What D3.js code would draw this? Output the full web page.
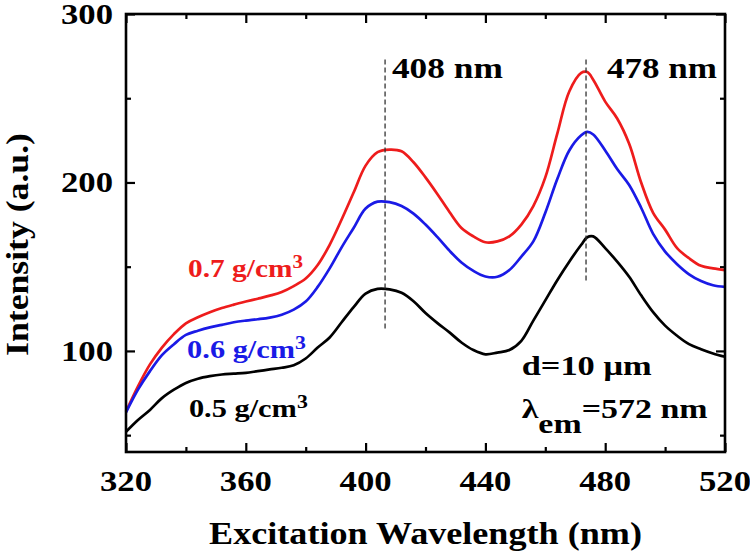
<!DOCTYPE html>
<html>
<head>
<meta charset="utf-8">
<script src="https://cdn.jsdelivr.net/npm/d3@7"></script>
<style>
  html, body { margin: 0; padding: 0; background: #fff; }
  svg { display: block; }
</style>
</head>
<body>
<svg id="chart" width="750" height="555"></svg>
<script>
// ---- data ----
const wavelength = [320,324,328,332,336,340,344,348,352,356,360,364,368,372,376,380,384,388,392,396,400,404,408,412,416,420,424,428,432,436,440,444,448,452,456,460,464,468,472,474,476,480,484,488,492,496,500,504,508,512,516,520];
const density07 = [64,79,92,102,110,116.4,120,123,125.5,127.5,129.3,131,132.8,135,138.5,143,151,163,178,194,210,218,219.5,218.5,212,203,193,182.5,173,168,164.5,165,168,175,186,203,229,254,265,265.5,261,248,238,223,200,182,172,161,155,150.5,149,148];
const density06 = [63.5,77,88,97.5,104,109.5,112,114,115.5,117,118,118.8,119.8,121.5,124.5,129.3,138,149,161.5,173,184.5,188.6,188.3,186,181.5,175,167.5,159.5,152.5,147.5,144.2,144,148,156,165,182,202,219,228,230,228.5,219,208,198.5,185,169.5,159,151.5,145.5,141.5,139,138];
const density05 = [52,59,65,72,77,81,83.5,85,86,86.5,87,88,89,90,91.5,95.5,102,108,117,126,134,136.8,136.5,134.5,129.5,122.5,116.5,111,105,100.5,98,99,100.5,106,118,130,142,153,163,167.5,168,161,153,144,133,123,115,109,104,101,98.5,96.5];
const seriesNames = ["0.7 g/cm", "0.6 g/cm", "0.5 g/cm"];
const seriesColors = ["#ee1c1c", "#1a1ae6", "#000000"];
const xMajorTicks = [320,360,400,440,480,520];
const xMinorTicks = [340,380,420,460,500];
const yMajorTicks = [100,200,300];
const yMinorTicks = [50,150,250];
const peakPositions = [406.5, 473.6];
const peakLabels = ["408 nm", "478 nm"];

// ---- layout ----
const L = 126, R = 725, T = 14, B = 452;
const FONT = "'Liberation Serif', 'Times New Roman', Times, 'Nimbus Roman', serif";
const svg = d3.select("#chart");
const x = d3.scaleLinear().domain([320, 520]).range([L, R]);
const y = d3.scaleLinear().domain([40, 300]).range([B, T]);

// text helper: stretch horizontally so width matches target
function label(parent, px, py, parts, size, anchor, targetW, fill, rotate) {
  const g = parent.append("g").attr("transform", `translate(${px},${py})` + (rotate ? " rotate(-90)" : ""));
  const t = g.append("text")
    .attr("font-family", FONT).attr("font-weight", "bold")
    .attr("font-size", size).attr("text-anchor", anchor).attr("fill", fill || "#000");
  parts.forEach(p => {
    const ts = t.append("tspan").text(p.t);
    if (p.dy) ts.attr("dy", p.dy);
    if (p.size) ts.attr("font-size", p.size);
  });
  if (targetW) {
    const w = t.node().getBBox().width;
    if (w > 0) t.attr("transform", `scale(${targetW / w},1)`);
  }
  return g;
}

// ---- axes (inward ticks on all four sides) ----
function ax(gen, tx, ty) {
  const g = svg.append("g").attr("transform", `translate(${tx},${ty})`).call(gen);
  g.select(".domain").remove();
  g.selectAll(".tick line").attr("stroke", "#000").attr("stroke-width", 2.2);
  g.selectAll(".tick text").remove();
}
ax(d3.axisBottom(x).tickValues(xMajorTicks).tickSize(-9), 0, B);
ax(d3.axisBottom(x).tickValues(xMinorTicks).tickSize(-5), 0, B);
ax(d3.axisTop(x).tickValues(xMajorTicks).tickSize(-9), 0, T);
ax(d3.axisTop(x).tickValues(xMinorTicks).tickSize(-5), 0, T);
ax(d3.axisLeft(y).tickValues(yMajorTicks).tickSize(-9), L, 0);
ax(d3.axisLeft(y).tickValues(yMinorTicks).tickSize(-5), L, 0);
ax(d3.axisRight(y).tickValues(yMajorTicks).tickSize(-9), R, 0);
ax(d3.axisRight(y).tickValues(yMinorTicks).tickSize(-5), R, 0);

// ---- curves ----
const line = d3.line().x(d => x(d[0])).y(d => y(d[1])).curve(d3.curveCatmullRom.alpha(0.5));
[density07, density06, density05].forEach((vals, i) => {
  svg.append("path")
    .datum(wavelength.map((w, k) => [w, vals[k]]))
    .attr("d", line)
    .attr("fill", "none")
    .attr("stroke", seriesColors[i])
    .attr("stroke-width", 2.7)
    .attr("stroke-linejoin", "round");
});

// ---- peak dashed lines ----
const peakBottoms = [112.5, 141];
peakPositions.forEach((p, i) => {
  svg.append("line")
    .attr("x1", x(p)).attr("x2", x(p))
    .attr("y1", y(273)).attr("y2", y(peakBottoms[i]))
    .attr("stroke", "#333").attr("stroke-width", 1.3)
    .attr("stroke-dasharray", "5,3");
});
label(svg, x(408.8), y(262), [{t: peakLabels[0]}], 30, "start", 111);
label(svg, x(480.6), y(262), [{t: peakLabels[1]}], 30, "start", 110);

// ---- frame ----
svg.append("rect").attr("x", L).attr("y", T).attr("width", R - L).attr("height", B - T)
  .attr("fill", "none").attr("stroke", "#000").attr("stroke-width", 2.6);

// ---- tick labels ----
xMajorTicks.forEach(v => label(svg, x(v), 491, [{t: String(v)}], 29, "middle", 52));
yMajorTicks.forEach(v => label(svg, 113, y(v) + 10, [{t: String(v)}], 29, "end", 52));

// ---- axis titles ----
label(svg, (L + R) / 2, 544, [{t: "Excitation Wavelength (nm)"}], 32, "middle", 433);
label(svg, 28, 244.5, [{t: "Intensity (a.u.)"}], 32, "middle", 223, "#000", true);

// ---- series labels ----
const labelPos = [[340.7, 144, 115], [340.4, 95.8, 119], [341, 61, 119]];
seriesNames.forEach((n, i) => {
  label(svg, x(labelPos[i][0]), y(labelPos[i][1]),
    [{t: n}, {t: "3", dy: -9, size: 18}], 25, "start", labelPos[i][2], seriesColors[i]);
});

// ---- sample info ----
label(svg, x(452.1), y(85.8), [{t: "d=10 μm"}], 28, "start", 130);
label(svg, x(452.1), y(60.2), [{t: "λ"}, {t: "em", dy: 15}, {t: "=572 nm", dy: -15}], 28, "start", 186);
</script>
</body>
</html>
